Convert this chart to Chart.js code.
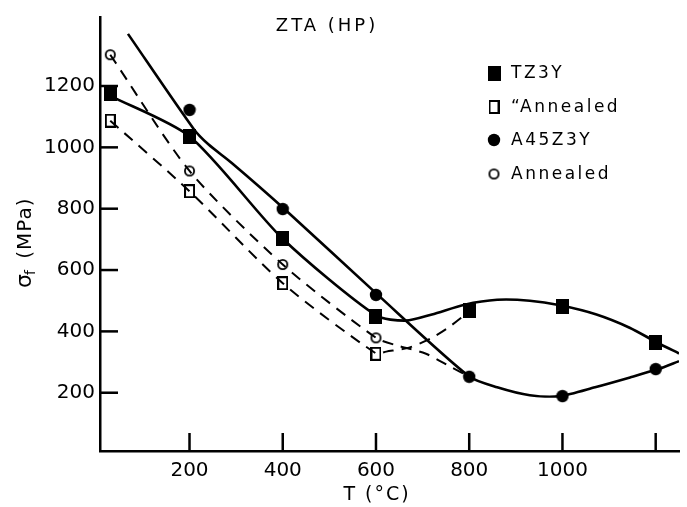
<!DOCTYPE html>
<html><head><meta charset="utf-8">
<script src="https://cdn.jsdelivr.net/npm/chart.js@4.4.1/dist/chart.umd.min.js"></script>
<style>html,body{margin:0;padding:0;background:#fff}canvas{display:block}</style>
</head><body>
<canvas id="c" width="687" height="507"></canvas>
<script>
// ---- data ----
const chartTitle = 'ZTA (HP)';
const xTitle = 'T (°C)';
const seriesNames = ['TZ3Y', '\u201CAnnealed', 'A45Z3Y', 'Annealed'];

const tz3yT = [30, 200, 400, 600, 800, 1000, 1200];
const tz3yS = [1176, 1036, 702, 450, 468, 482, 363];
const tz3yAnnT = [30, 200, 400, 600];
const tz3yAnnS = [1087, 857, 557, 327];
const a45T = [200, 400, 600, 800, 1000, 1200];
const a45S = [1122, 799, 519, 252, 189, 277];
const a45AnnT = [30, 200, 400, 600];
const a45AnnS = [1302, 923, 618, 379];

// hand-drawn trend curves
const tz3yCurveT = [30, 200, 400, 600, 664, 720, 790, 860, 930, 995, 1073, 1144, 1204, 1250];
const tz3yCurveS = [1168, 1036, 702, 452, 435, 455, 487, 503, 500, 485, 455, 412, 363, 328];
const a45CurveT = [68, 209, 241, 290, 403, 604, 800, 860, 930, 995, 1070, 1145, 1205, 1250];
const a45CurveS = [1370, 1060, 1009, 950, 800, 519, 253, 218, 192, 189, 218, 250, 277, 303];
const tz3yAnnCurveT = [30, 200, 400, 600, 622, 671, 720, 755, 800];
const tz3yAnnCurveS = [1087, 857, 557, 328, 334, 347, 379, 412, 465];
const a45AnnCurveT = [30, 200, 400, 600, 650, 706, 763, 800];
const a45AnnCurveS = [1302, 923, 618, 379, 352, 328, 282, 253];

const xTicks = [200, 400, 600, 800, 1000, 1200];
const xTickLabels = ['200', '400', '600', '800', '1000', ''];
const yTicks = [200, 400, 600, 800, 1000, 1200];
const yTickLabels = ['200', '400', '600', '800', '1000', '1200'];

// ---- marker images ----
function mk(w, h, draw) { const c = document.createElement('canvas'); c.width = w; c.height = h; draw(c.getContext('2d')); return c; }
const filledSq = mk(13, 15, g => { g.fillStyle = '#000'; g.fillRect(0, 0, 13, 15); });
const openSq = mk(11, 14, g => { g.strokeStyle = '#000'; g.lineWidth = 2; g.strokeRect(1, 1, 9, 12); });
const filledCi = mk(14, 14, g => { g.fillStyle = '#000'; g.beginPath(); g.arc(7, 7, 6.2, 0, 2 * Math.PI); g.fill(); });
const openCi = mk(13, 13, g => { g.strokeStyle = '#000'; g.lineWidth = 1.8; g.beginPath(); g.arc(6.5, 6.5, 4.6, 0, 2 * Math.PI); g.stroke(); });
const markers = [filledSq, openSq, filledCi, openCi];

const zip = (xs, ys) => xs.map((x, i) => ({ x: x, y: ys[i] }));

function curve(xs, ys, dashed) {
  return {
    data: zip(xs, ys), showLine: true, pointRadius: 0, borderColor: '#000',
    borderWidth: dashed ? 2 : 2.6, borderDash: dashed ? [11, 8] : [],
    tension: 0.25, order: 2, fill: false
  };
}
function pts(xs, ys, img) {
  return { data: zip(xs, ys), showLine: false, pointStyle: img, pointRadius: 7, order: 1, clip: false };
}

const decor = {
  id: 'decor',
  afterDraw(chart) {
    const { ctx, chartArea: a, scales: { x, y } } = chart;
    ctx.save();
    ctx.strokeStyle = '#000'; ctx.lineWidth = 2.5; ctx.lineCap = 'butt';
    xTicks.forEach(v => { const p = x.getPixelForValue(v); ctx.beginPath(); ctx.moveTo(p, a.bottom); ctx.lineTo(p, a.bottom - 18); ctx.stroke(); });
    yTicks.forEach(v => { const p = y.getPixelForValue(v); ctx.beginPath(); ctx.moveTo(a.left, p); ctx.lineTo(a.left + 18, p); ctx.stroke(); });
    ctx.fillStyle = '#000';
    // title
    ctx.font = '18px "DejaVu Sans"'; ctx.letterSpacing = '3px';
    ctx.textAlign = 'center'; ctx.textBaseline = 'middle';
    ctx.fillText(chartTitle, 327, 26);
    // x title
    ctx.font = '19px "DejaVu Sans"'; ctx.letterSpacing = '2px';
    ctx.fillText(xTitle, 377, 495);
    // y title with subscript
    ctx.save();
    ctx.translate(33, 288); ctx.rotate(-Math.PI / 2);
    ctx.textAlign = 'left'; ctx.textBaseline = 'alphabetic'; ctx.letterSpacing = '1px';
    ctx.font = '22px "DejaVu Sans"';
    ctx.fillText('σ', 0, -2);
    let w = ctx.measureText('σ').width;
    ctx.font = '14px "DejaVu Sans"';
    ctx.fillText('f', w - 2, 2);
    w += ctx.measureText('f').width + 1;
    ctx.font = '20px "DejaVu Sans"';
    ctx.fillText(' (MPa)', w, -2);
    ctx.restore();
    // legend
    const rows = [73, 107, 140, 174];
    ctx.font = '17px "DejaVu Sans"'; ctx.letterSpacing = '2.5px';
    ctx.textAlign = 'left'; ctx.textBaseline = 'middle';
    seriesNames.forEach((n, i) => {
      const m = markers[i];
      ctx.drawImage(m, 494 - m.width / 2, rows[i] - m.height / 2);
      ctx.fillText(n, 511, rows[i] + 1);
    });
    ctx.restore();
  }
};

new Chart(document.getElementById('c'), {
  type: 'scatter',
  data: {
    datasets: [
      curve(tz3yCurveT, tz3yCurveS, false),
      curve(a45CurveT, a45CurveS, false),
      curve(tz3yAnnCurveT, tz3yAnnCurveS, true),
      curve(a45AnnCurveT, a45AnnCurveS, true),
      pts(tz3yT, tz3yS, filledSq),
      pts(tz3yAnnT, tz3yAnnS, openSq),
      pts(a45T, a45S, filledCi),
      pts(a45AnnT, a45AnnS, openCi)
    ]
  },
  options: {
    responsive: false, animation: false, devicePixelRatio: 1,
    layout: { padding: { top: 13, right: 0, left: 0, bottom: 0 } },
    plugins: { legend: { display: false }, tooltip: { enabled: false }, title: { display: false } },
    scales: {
      x: {
        type: 'linear', min: 8, max: 1250,
        afterFit(s) { s.height = 56; },
        afterBuildTicks(s) { s.ticks = xTicks.map(v => ({ value: v })); },
        grid: { display: false, drawTicks: false },
        border: { display: true, color: '#000', width: 2.5 },
        ticks: {
          callback: v => xTickLabels[xTicks.indexOf(v)], color: '#000',
          font: { family: 'DejaVu Sans', size: 20 }, padding: 8, maxRotation: 0, autoSkip: false
        }
      },
      y: {
        type: 'linear', min: 10, max: 1425,
        afterFit(s) { s.width = 100; },
        afterBuildTicks(s) { s.ticks = yTicks.map(v => ({ value: v })); },
        grid: { display: false, drawTicks: false },
        border: { display: true, color: '#000', width: 2.5 },
        ticks: {
          callback: v => yTickLabels[yTicks.indexOf(v)], color: '#000',
          font: { family: 'DejaVu Sans', size: 20 }, padding: 5, autoSkip: false
        }
      }
    }
  },
  plugins: [decor]
});
</script>
</body></html>
